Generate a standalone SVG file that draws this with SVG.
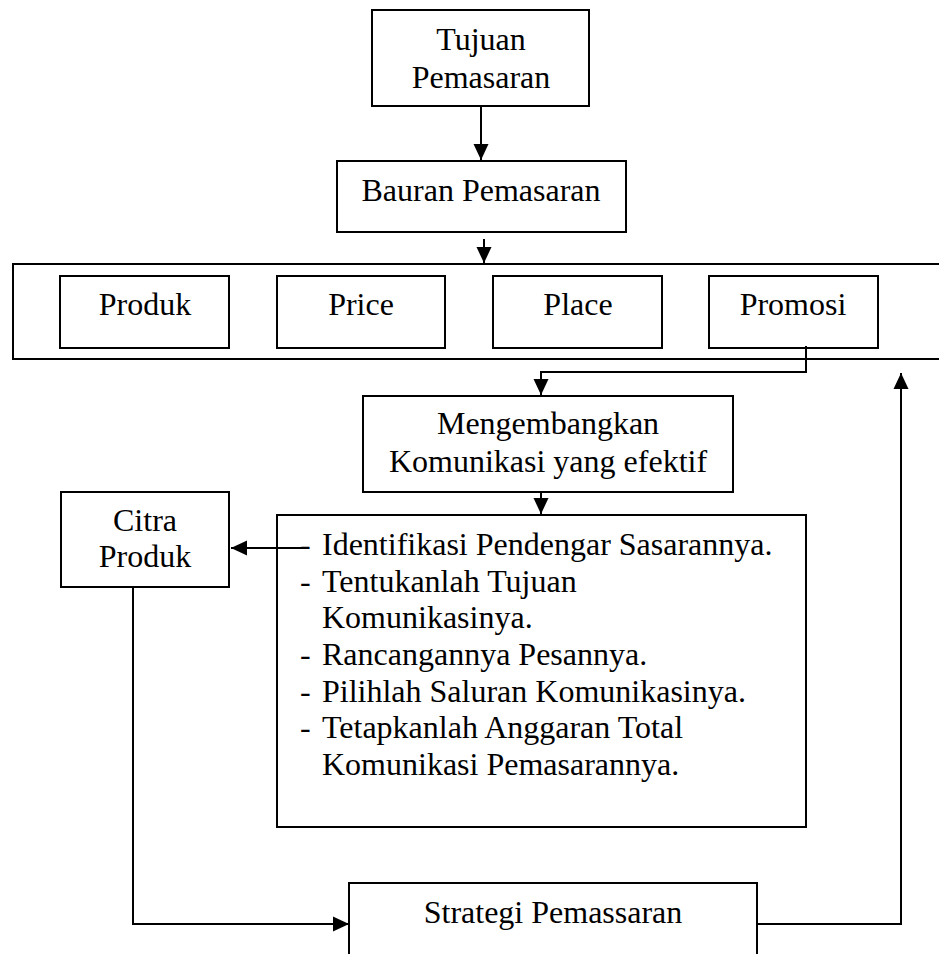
<svg xmlns="http://www.w3.org/2000/svg" width="939" height="954" viewBox="0 0 939 954">
<style>
  .box { fill: #ffffff; stroke: #000000; stroke-width: 2; }
  .ln { fill: none; stroke: #000000; stroke-width: 2; }
  .arr { fill: none; stroke: #000000; stroke-width: 2; marker-end: url(#ah); }
  text { font-family: "Liberation Serif", "Times New Roman", serif; font-size: 32px; fill: #000000; }
  .c { text-anchor: middle; }
</style>
<defs>
  <marker id="ah" markerUnits="userSpaceOnUse" markerWidth="17" markerHeight="16" refX="16" refY="8" orient="auto" viewBox="0 0 17 16">
    <path d="M0,0.5 L16,8 L0,15.5 z" fill="#000000"/>
  </marker>
</defs>
<rect width="939" height="954" fill="#ffffff"/>

<g id="tujuan">
  <rect class="box" x="372" y="10" width="217" height="96"/>
  <text class="c" x="481" y="50">Tujuan</text>
  <text class="c" x="481" y="88">Pemasaran</text>
</g>
<g id="bauran">
  <rect class="box" x="337" y="161" width="289" height="71"/>
  <text class="c" x="481" y="201">Bauran Pemasaran</text>
</g>
<g id="bauran-container">
  <path class="ln" d="M939,264 H13 V359 H939"/>
</g>
<g id="produk">
  <rect class="box" x="60" y="276" width="169" height="72"/>
  <text class="c" x="145" y="315">Produk</text>
</g>
<g id="price">
  <rect class="box" x="277" y="276" width="168" height="72"/>
  <text class="c" x="361" y="315">Price</text>
</g>
<g id="place">
  <rect class="box" x="493" y="276" width="169" height="72"/>
  <text class="c" x="578" y="315">Place</text>
</g>
<g id="promosi">
  <rect class="box" x="709" y="276" width="169" height="72"/>
  <text class="c" x="793" y="315">Promosi</text>
</g>
<g id="mengembangkan">
  <rect class="box" x="363" y="396" width="370" height="96"/>
  <text class="c" x="548" y="434">Mengembangkan</text>
  <text class="c" x="548" y="472">Komunikasi yang efektif</text>
</g>
<g id="citra">
  <rect class="box" x="61" y="492" width="168" height="95"/>
  <text class="c" x="145" y="531">Citra</text>
  <text class="c" x="145" y="567">Produk</text>
</g>
<g id="langkah">
  <rect class="box" x="277" y="515" width="529" height="312"/>
  <text x="300" y="555">-</text><text x="322" y="555">Identifikasi Pendengar Sasarannya.</text>
  <text x="300" y="592">-</text><text x="322" y="592">Tentukanlah Tujuan</text>
  <text x="322" y="628">Komunikasinya.</text>
  <text x="300" y="665">-</text><text x="322" y="665">Rancangannya Pesannya.</text>
  <text x="300" y="702">-</text><text x="322" y="702">Pilihlah Saluran Komunikasinya.</text>
  <text x="300" y="738">-</text><text x="322" y="738">Tetapkanlah Anggaran Total</text>
  <text x="322" y="775">Komunikasi Pemasarannya.</text>
</g>
<g id="strategi">
  <path class="box" d="M349,954 V883 H757 V954"/>
  <text class="c" x="553" y="923">Strategi Pemassaran</text>
</g>

<g id="connectors">
  <path class="arr" d="M481,106 V160"/>
  <path class="arr" d="M484,239 V263"/>
  <path class="arr" d="M806,346 V372 H541 V395"/>
  <path class="arr" d="M541,492 V514"/>
  <path class="arr" d="M303,548 H231"/>
  <path class="arr" d="M133,587 V924 H349"/>
  <path class="arr" d="M757,924 H901 V373"/>
</g>
</svg>
